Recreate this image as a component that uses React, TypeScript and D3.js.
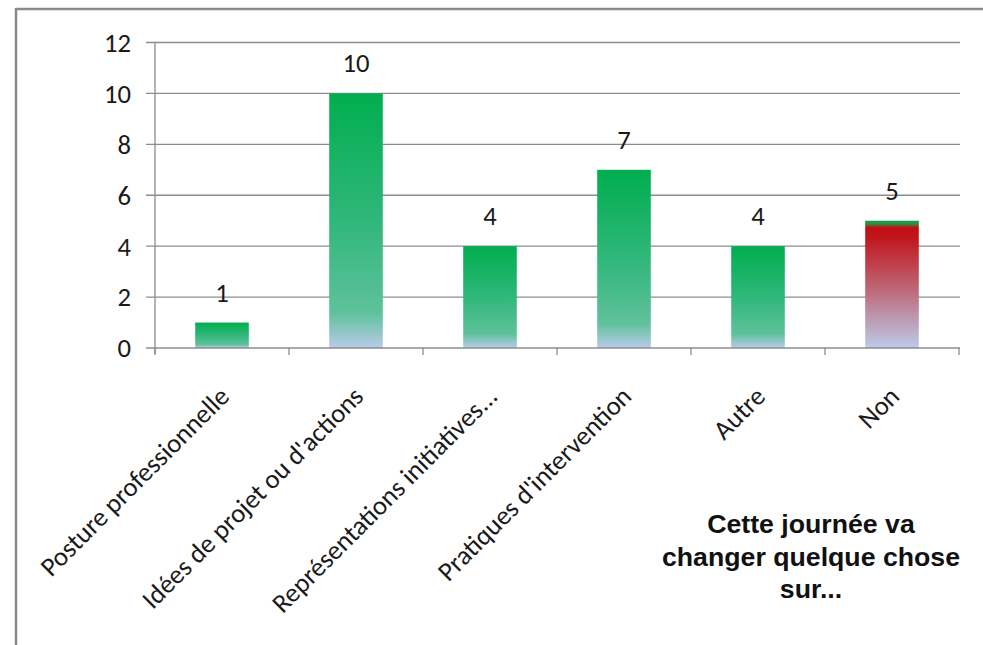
import React from "react";
import * as d3 from "d3";

const categories = [
  "Posture professionnelle",
  "Idées de projet ou d'actions",
  "Représentations initiatives...",
  "Pratiques d'intervention",
  "Autre",
  "Non",
];
const values = [1, 10, 4, 7, 4, 5];
const yTicks = [0, 2, 4, 6, 8, 10, 12];
const titleLines = ["Cette journée va", "changer quelque chose", "sur..."];

const W = 983;
const H = 645;
const plot = { left: 155, right: 959, top: 42.5, bottom: 348 };

export default function App() {
  const x = d3
    .scaleBand<string>()
    .domain(categories)
    .range([plot.left, plot.right])
    .paddingInner(0.6)
    .paddingOuter(0.3);
  const y = d3.scaleLinear().domain([0, 12]).range([plot.bottom, plot.top]);
  const boundaries = d3
    .range(categories.length + 1)
    .map((i) => plot.left + i * ((plot.right - plot.left) / categories.length));
  const font = "Carlito, Lato, 'Open Sans', sans-serif";
  const fs = 26.7;

  return (
    <svg
      width={W}
      height={H}
      style={{ position: "absolute", left: 0, top: 0, background: "#fff" }}
    >
      <defs>
        <linearGradient id="gGreen" x1="0" y1="0" x2="0" y2="1">
          <stop offset="0" stopColor="#00AE4E" />
          <stop offset="0.5" stopColor="#30B77B" />
          <stop offset="0.86" stopColor="#5EC19B" />
          <stop offset="1" stopColor="#BACBE9" />
        </linearGradient>
        <linearGradient id="gRed" x1="0" y1="0" x2="0" y2="1">
          <stop offset="0" stopColor="#12A552" />
          <stop offset="0.025" stopColor="#2E8C42" />
          <stop offset="0.055" stopColor="#C20E12" />
          <stop offset="0.13" stopColor="#C0161C" />
          <stop offset="0.55" stopColor="#BE6A7A" />
          <stop offset="1" stopColor="#BCCBEA" />
        </linearGradient>
      </defs>

      {/* frame */}
      <line x1={16} x2={W} y1={9} y2={9} stroke="#8a8a8a" strokeWidth={2.5} />
      <line x1={16} x2={16} y1={8} y2={H} stroke="#8a8a8a" strokeWidth={2.5} />

      {/* gridlines & y labels */}
      {yTicks.map((t) => (
        <g key={t}>
          {t > 0 && (
            <line
              x1={plot.left - 9}
              x2={plot.right + 1}
              y1={y(t)}
              y2={y(t)}
              stroke="#8c8c8c"
              strokeWidth={1.3}
            />
          )}
          <text
            x={131}
            y={y(t)}
            dy="0.35em"
            textAnchor="end"
            fontFamily={font}
            fontSize={fs}
            fill="#1a1a1a"
          >
            {t}
          </text>
        </g>
      ))}

      {/* bars */}
      {categories.map((c, i) => (
        <rect
          key={c}
          x={x(c)}
          y={y(values[i])}
          width={x.bandwidth()}
          height={y(0) - y(values[i])}
          fill={c === "Non" ? "url(#gRed)" : "url(#gGreen)"}
        />
      ))}

      {/* axes */}
      <line
        x1={plot.left}
        x2={plot.left}
        y1={plot.top}
        y2={plot.bottom + 6}
        stroke="#8c8c8c"
        strokeWidth={1.3}
      />
      <line
        x1={plot.left - 9}
        x2={plot.right + 1}
        y1={plot.bottom}
        y2={plot.bottom}
        stroke="#8c8c8c"
        strokeWidth={1.3}
      />
      {boundaries.map((b, i) => (
        <line
          key={i}
          x1={b}
          x2={b}
          y1={plot.bottom}
          y2={plot.bottom + 7}
          stroke="#8c8c8c"
          strokeWidth={1.3}
        />
      ))}

      {/* data labels */}
      {categories.map((c, i) => (
        <text
          key={c}
          x={(x(c) as number) + x.bandwidth() / 2}
          y={y(values[i]) - 21}
          textAnchor="middle"
          fontFamily={font}
          fontSize={fs}
          fill="#1a1a1a"
        >
          {values[i]}
        </text>
      ))}

      {/* category labels */}
      {categories.map((c) => {
        const cx = (x(c) as number) + x.bandwidth() / 2 + 9;
        const cy = plot.bottom + 50;
        return (
          <text
            key={c}
            transform={`translate(${cx},${cy}) rotate(-45)`}
            textAnchor="end"
            fontFamily={font}
            fontSize={fs}
            fill="#1a1a1a"
          >
            {c}
          </text>
        );
      })}

      {/* title */}
      {titleLines.map((l, i) => (
        <text
          key={l}
          x={811}
          y={533 + i * 32.5}
          textAnchor="middle"
          fontFamily="'Liberation Sans', Arial, sans-serif"
          fontWeight="bold"
          fontSize={26.7}
          fill="#111"
        >
          {l}
        </text>
      ))}
    </svg>
  );
}
